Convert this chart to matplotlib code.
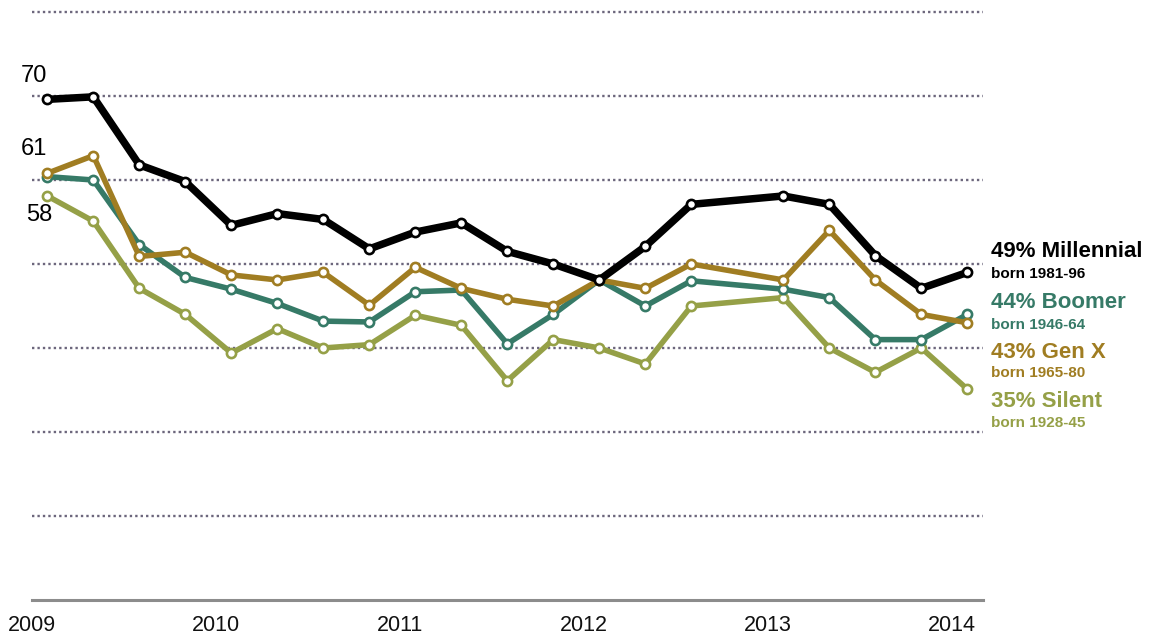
import numpy as np
import matplotlib.pyplot as plt

# survey dates (year-month), quarterly with a gap in late 2012
survey_dates = ['2009-02', '2009-05', '2009-08', '2009-11',
                '2010-02', '2010-05', '2010-08', '2010-11',
                '2011-02', '2011-05', '2011-08', '2011-11',
                '2012-02', '2012-05', '2012-08',
                '2013-02', '2013-05', '2013-08', '2013-11',
                '2014-02']

millennial = [69.6, 69.9, 61.8, 59.8, 54.6, 56.0, 55.3, 51.8, 53.8, 54.9,
              51.5, 50.0, 48.1, 52.1, 57.1, 58.1, 57.1, 51.0, 47.1, 49.0]
gen_x = [60.8, 62.9, 50.9, 51.4, 48.7, 48.1, 49.0, 45.1, 49.6, 47.1,
         45.8, 45.0, 48.1, 47.1, 50.0, 48.1, 54.0, 48.1, 44.0, 43.0]
boomer = [60.4, 60.0, 52.3, 48.4, 47.0, 45.3, 43.2, 43.1, 46.7, 46.9,
          40.5, 44.0, 48.1, 45.0, 48.0, 47.0, 46.0, 41.0, 41.0, 44.0]
silent = [58.1, 55.1, 47.1, 44.0, 39.4, 42.3, 40.0, 40.4, 43.9, 42.7,
          36.1, 41.0, 40.0, 38.1, 45.0, 46.0, 40.0, 37.1, 40.0, 35.1]

end_labels = ['49% Millennial', '44% Boomer', '43% Gen X', '35% Silent']
born_labels = ['born 1981-96', 'born 1946-64', 'born 1965-80', 'born 1928-45']
start_labels = ['70', '61', '58']
year_ticks = [2009, 2010, 2011, 2012, 2013, 2014]

c_mill = '#000000'
c_boom = '#367a67'
c_genx = '#a07d22'
c_sil = '#95a047'

plt.rcParams['font.family'] = ['Liberation Sans', 'DejaVu Sans']

x = np.array([int(d[:4]) + (int(d[5:]) - 1) / 12 for d in survey_dates])

fig = plt.figure(figsize=(11.5, 6.36), dpi=100)
ax = fig.add_axes([32 / 1150, 1 - 600 / 636, (983 - 32) / 1150, (600 - 12) / 636])
ax.set_xlim(2009, 2009 + (983 - 32) / 184)
ax.set_ylim(10, 80)

# dotted gridlines
for v in range(20, 81, 10):
    ax.axhline(v, color='#6c667c', lw=1.7, ls=(0, (1, 1.3)), zorder=0, clip_on=False)

# lines, bottom to top
series = [(silent, c_sil, 4.0, 2), (boomer, c_boom, 4.0, 3),
          (gen_x, c_genx, 4.0, 4), (millennial, c_mill, 5.4, 5)]
for vals, col, lw, z in series:
    ax.plot(x, vals, color=col, lw=lw, zorder=z, solid_joinstyle='round',
            marker='o', ms=6.6, mfc='white', mec=col, mew=1.9)

for s in ['left', 'right', 'top']:
    ax.spines[s].set_visible(False)
ax.spines['bottom'].set_color('#8c8c8c')
ax.spines['bottom'].set_linewidth(2.2)
ax.set_yticks([])
ax.set_xticks(year_ticks)
ax.set_xticklabels([str(y) for y in year_ticks])
ax.tick_params(axis='x', length=0, pad=11, labelsize=15.5, labelcolor='#111111')

# start labels
ax.annotate(start_labels[0], (x[0], millennial[0]), xytext=(-9.5, 16.5),
            textcoords='offset points', ha='center', va='center', fontsize=17)
ax.annotate(start_labels[1], (x[0], gen_x[0]), xytext=(-9.5, 17.5),
            textcoords='offset points', ha='center', va='center', fontsize=17)
ax.annotate(start_labels[2], (x[0], silent[0]), xytext=(-6, -13.5),
            textcoords='offset points', ha='center', va='center', fontsize=17)

# end labels
label_y = [51.5, 45.4, 39.5, 33.6]
born_y = [48.8, 42.7, 37.0, 31.1]
cols = [c_mill, c_boom, c_genx, c_sil]
for i in range(4):
    ax.annotate(end_labels[i], (x[-1], label_y[i]), xytext=(17, 0),
                textcoords='offset points', ha='left', va='center',
                fontsize=16, fontweight='bold', color=cols[i], annotation_clip=False)
    ax.annotate(born_labels[i], (x[-1], born_y[i]), xytext=(17, 0),
                textcoords='offset points', ha='left', va='center',
                fontsize=11, fontweight='bold', color=cols[i], annotation_clip=False)

fig.savefig('out.png', dpi=100)
